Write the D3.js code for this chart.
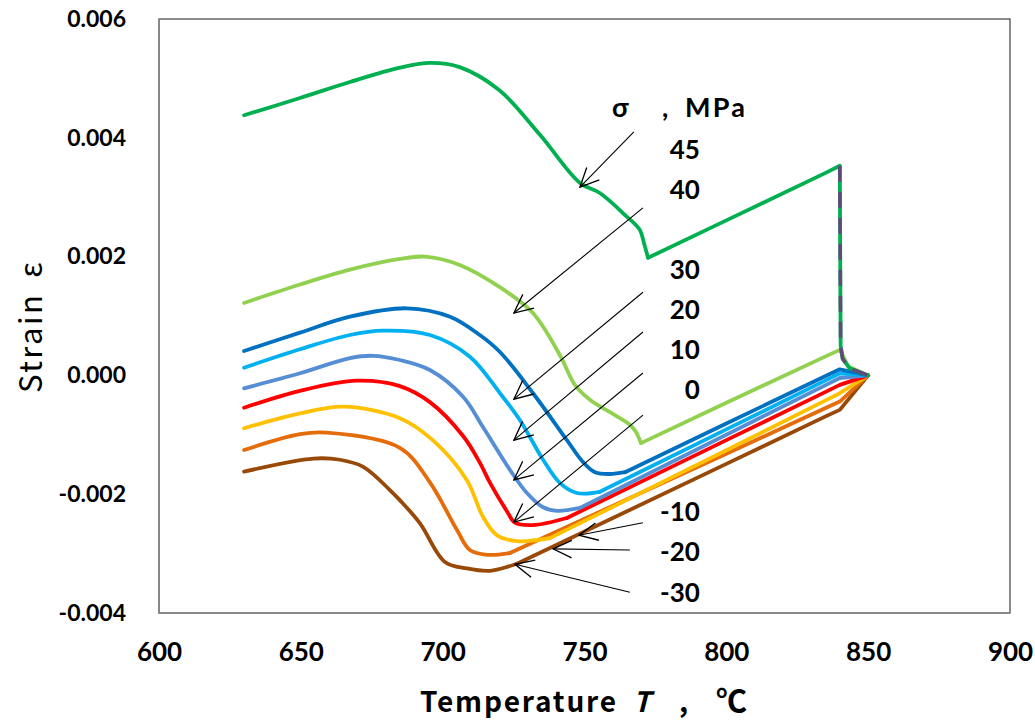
<!DOCTYPE html>
<html>
<head>
<meta charset="utf-8">
<script src="https://cdn.jsdelivr.net/npm/d3@7"></script>
<style>
  body { margin: 0; background: #fff; }
  svg { display: block; }
</style>
</head>
<body>
<div id="chart"></div>
<script>
// stress levels, MPa
var stresses = ["45", "40", "30", "20", "10", "0", "-10", "-20", "-30"];
var colors = ["#00B050", "#92D050", "#0070C0", "#00B0F0", "#558ED5", "#FF0000", "#FFC000", "#E46C0A", "#984807"];

// temperature (C) / strain readings per curve
var s45T = [630, 649.7, 667.3, 685, 695.5, 706, 720, 734.3, 748.4, 755.4, 764.3, 769.5, 771, 772.4, 800, 835, 840, 840.3, 841, 843.5, 850];
var s45E = [0.00438, 0.00467, 0.00494, 0.00518, 0.00526, 0.00519, 0.00480, 0.00405, 0.00324, 0.00307, 0.00270, 0.00245, 0.00222, 0.00198, 0.00261, 0.00341, 0.00353, 0.0005, 0.00028, 0.00012, 0];

var s40T = [630, 649.7, 667.3, 685, 693.8, 706, 720, 731.8, 741.3, 746.6, 751.9, 759, 766, 768.1, 769.9, 800, 835, 840, 843, 850];
var s40E = [0.00122, 0.00153, 0.00178, 0.00196, 0.00200, 0.00186, 0.00149, 0.00105, 0.000343, -0.00016, -0.00041, -0.00062, -0.00083, -0.00095, -0.00114, -0.00046, 0.00032, 0.00043, 0.00015, 0];

var s30T = [630, 649.7, 667.3, 687.4, 702.6, 713.1, 720.2, 731.8, 743.8, 749.5, 753.7, 759, 764.3, 800, 835, 840, 850];
var s30E = [0.00041, 0.00072, 0.000988, 0.00113, 0.000988, 0.00068, 0.000394, -0.000296, -0.00109, -0.00146, -0.00163, -0.00166, -0.00163, -0.00081, -0.000011, 0.000103, 0];

var s20T = [630, 649.7, 667.3, 679, 695.5, 709.6, 720.2, 727.2, 735.4, 741.3, 747.3, 755.4, 800, 835, 840, 850];
var s20E = [0.00013, 0.00044, 0.00068, 0.000753, 0.00068, 0.000315, -0.0003, -0.00075, -0.00142, -0.00181, -0.00198, -0.00196, -0.000909, -0.000084, 0.0000337, 0];

var s10T = [630, 649.7, 667.3, 675.4, 684.9, 695.5, 707.2, 714.2, 723.7, 729.7, 735.4, 740.3, 748.4, 800, 835, 840, 850];
var s10E = [-0.000217, 0.0000354, 0.00029, 0.00033, 0.000259, 0.0000911, -0.00036, -0.00087, -0.00159, -0.00198, -0.00222, -0.00228, -0.00223, -0.00100, -0.000163, -0.000044, 0];

var s0T = [630, 649.7, 669.7, 684.9, 695.5, 707.2, 713, 716.7, 722.7, 725.5, 731.8, 743.8, 800, 835, 840, 850];
var s0E = [-0.000544, -0.00026, -0.000089, -0.00018, -0.00045, -0.00102, -0.00146, -0.00181, -0.00229, -0.00248, -0.00252, -0.0024, -0.00109, -0.000277, -0.00016, 0];

var sm10T = [630, 649.7, 665, 684.9, 696.5, 708.5, 714.2, 719.1, 726.2, 737.8, 800, 835, 840, 850];
var sm10E = [-0.00089, -0.00064, -0.000527, -0.00072, -0.00109, -0.00176, -0.00238, -0.00269, -0.00279, -0.00274, -0.00126, -0.00042, -0.0003, 0];

var sm20T = [630, 649.7, 659.1, 684.9, 695.5, 705, 709.6, 715.6, 723.7, 800, 835, 840, 850];
var sm20E = [-0.001256, -0.00099, -0.000965, -0.00122, -0.0018, -0.0026, -0.00294, -0.00302, -0.00299, -0.00132, -0.00055, -0.00044, 0];

var sm30T = [630, 654.4, 663.8, 672, 681.4, 684.9, 692, 700.8, 708.5, 716.7, 726.2, 800, 835, 840, 850];
var sm30E = [-0.00162, -0.0014, -0.00142, -0.00154, -0.00193, -0.0021, -0.00249, -0.00314, -0.00325, -0.00329, -0.00317, -0.00149, -0.00069, -0.00058, 0];

// index where each curve turns into its straight heating branch
var tailStart = [13, 14, 12, 11, 12, 11, 9, 8, 10];

// dashed overlay on the 45 MPa drop
var dropT = [840, 840.3, 841, 843.5, 850];
var dropE = [0.00353, 0.0005, 0.00028, 0.00012, 0];

var seriesT = [s45T, s40T, s30T, s20T, s10T, s0T, sm10T, sm20T, sm30T];
var seriesE = [s45E, s40E, s30E, s20E, s10E, s0E, sm10E, sm20E, sm30E];

var xTicks = [600, 650, 700, 750, 800, 850, 900];
var yTicks = [-0.004, -0.002, 0, 0.002, 0.004, 0.006];

// label anchors (T, strain) and arrows [fromT, fromE, toT, toE]
var labelT = [790.7, 790.7, 790.7, 790.7, 790.7, 790.7, 790.7, 790.7, 790.7];
var labelE = [0.003795, 0.00312, 0.001774, 0.0011, 0.000428, -0.000246, -0.0023, -0.00297, -0.00365];
var arrows = [
  [767.4, 0.0041, 748.4, 0.00317],
  [770.6, 0.00282, 725.1, 0.00105],
  [770.6, 0.0014, 725.1, -0.0004],
  [770.6, 0.00073, 725.1, -0.00109],
  [770.6, 0.00004, 725.1, -0.00176],
  [770.6, -0.00067, 725.1, -0.00247],
  [770.6, -0.00248, 748, -0.00269],
  [766, -0.00294, 738.9, -0.00292],
  [766, -0.00365, 725.5, -0.00318]
];

var margin = {top: 19, right: 25, bottom: 110, left: 159},
    width = 1035 - margin.left - margin.right,
    height = 723 - margin.top - margin.bottom;

var svg = d3.select("#chart")
  .append("svg")
    .attr("width", 1035)
    .attr("height", 723)
  .append("g")
    .attr("transform", "translate(" + margin.left + "," + margin.top + ")");

var x = d3.scaleLinear().domain([600, 900]).range([0, width]);
var y = d3.scaleLinear().domain([-0.004, 0.006]).range([height, 0]);

// plot frame
svg.append("rect")
  .attr("width", width).attr("height", height)
  .attr("fill", "none").attr("stroke", "#404040").attr("stroke-width", 1.2);
svg.append("path")
  .attr("d", "M0,0V" + height + "H" + width)
  .attr("fill", "none").attr("stroke", "#868686").attr("stroke-width", 1.5);

// axes
var yAxis = svg.append("g")
  .call(d3.axisLeft(y).tickValues(yTicks).tickSize(0).tickPadding(33)
    .tickFormat(function(d) { return d.toFixed(3); }));
yAxis.select(".domain").remove();
yAxis.selectAll("text")
  .attr("font-family", "Lato, 'Open Sans', sans-serif")
  .attr("font-weight", "bold")
  .attr("font-size", 23)
  .attr("fill", "#000");

var xAxis = svg.append("g")
  .attr("transform", "translate(0," + height + ")")
  .call(d3.axisBottom(x).tickValues(xTicks).tickSize(0).tickPadding(30));
xAxis.select(".domain").remove();
xAxis.selectAll("text")
  .attr("font-family", "Lato, 'Open Sans', sans-serif")
  .attr("font-weight", "bold")
  .attr("font-size", 26)
  .attr("fill", "#000");

// curves: smooth cooling part, then straight heating branch
var smooth = d3.line()
  .x(function(d) { return x(d[0]); })
  .y(function(d) { return y(d[1]); })
  .curve(d3.curveCatmullRom.alpha(0.5));
var straight = d3.line()
  .x(function(d) { return x(d[0]); })
  .y(function(d) { return y(d[1]); });

for (var i = seriesT.length - 1; i >= 0; i--) {
  var pts = seriesT[i].map(function(t, j) { return [t, seriesE[i][j]]; });
  var g = svg.append("g")
    .attr("fill", "none")
    .attr("stroke", colors[i])
    .attr("stroke-width", 3.8)
    .attr("stroke-linejoin", "round")
    .attr("stroke-linecap", "round");
  g.append("path").datum(pts.slice(0, tailStart[i] + 1)).attr("d", smooth);
  g.append("path").datum(pts.slice(tailStart[i])).attr("d", straight);
}

svg.append("path")
  .datum(dropT.map(function(t, j) { return [t, dropE[j]]; }))
  .attr("d", straight)
  .attr("fill", "none")
  .attr("stroke", "#604A7B")
  .attr("stroke-width", 3.6)
  .attr("stroke-dasharray", "16,10");

// arrows
svg.append("defs").append("marker")
  .attr("id", "head")
  .attr("viewBox", "0 0 20 20")
  .attr("refX", 19).attr("refY", 10)
  .attr("markerWidth", 22).attr("markerHeight", 22)
  .attr("markerUnits", "userSpaceOnUse")
  .attr("orient", "auto")
  .append("path")
    .attr("d", "M2,2L19,10L2,18")
    .attr("fill", "none").attr("stroke", "#000").attr("stroke-width", 1.2);

svg.selectAll(".arrow")
  .data(arrows)
  .enter()
  .append("line")
    .attr("class", "arrow")
    .attr("x1", function(d) { return x(d[0]); })
    .attr("y1", function(d) { return y(d[1]); })
    .attr("x2", function(d) { return x(d[2]); })
    .attr("y2", function(d) { return y(d[3]); })
    .attr("stroke", "#000")
    .attr("stroke-width", 1.1)
    .attr("marker-end", "url(#head)");

// stress labels
svg.selectAll(".lbl")
  .data(stresses)
  .enter()
  .append("text")
    .attr("class", "lbl")
    .attr("x", function(d, i) { return x(labelT[i]); })
    .attr("y", function(d, i) { return y(labelE[i]); })
    .attr("dy", "0.36em")
    .attr("text-anchor", "end")
    .attr("font-family", "Lato, 'Open Sans', sans-serif")
    .attr("font-weight", "bold")
    .attr("font-size", 26)
    .text(function(d) { return d; });

var head = svg.append("g")
  .attr("font-family", "Lato, 'Open Sans', sans-serif")
  .attr("font-weight", "bold")
  .attr("font-size", 27);
head.append("text").attr("x", 453).attr("y", 98).text("σ");
head.append("text").attr("x", 503).attr("y", 98).text(",");
head.append("text").attr("x", 526).attr("y", 98).attr("textLength", 60).text("MPa");

// axis titles
var tg = svg.append("g")
  .attr("font-family", "'Noto Sans CJK JP', sans-serif")
  .attr("font-weight", "bold")
  .attr("font-size", 28)
  .attr("fill", "#000");
tg.append("text").attr("x", 261).attr("y", height + 99)
  .attr("textLength", 196).attr("lengthAdjust", "spacing").text("Temperature");
tg.append("text").attr("x", 474).attr("y", height + 99).attr("font-style", "italic").text("T");
tg.append("text").attr("x", 520).attr("y", height + 99).text(",");
tg.append("text").attr("x", 557).attr("y", height + 99).attr("font-size", 31).text("℃");

var yg = svg.append("g")
  .attr("transform", "translate(" + (-117) + "," + 0 + ") rotate(-90)")
  .attr("font-family", "'Noto Sans CJK JP', sans-serif")
  .attr("font-size", 31)
  .attr("fill", "#000");
yg.append("text").attr("x", -374).attr("y", 0)
  .attr("textLength", 98).attr("lengthAdjust", "spacing").text("Strain");
yg.append("text").attr("x", -251).attr("y", 0).attr("text-anchor", "middle").text("ε");
</script>
</body>
</html>
